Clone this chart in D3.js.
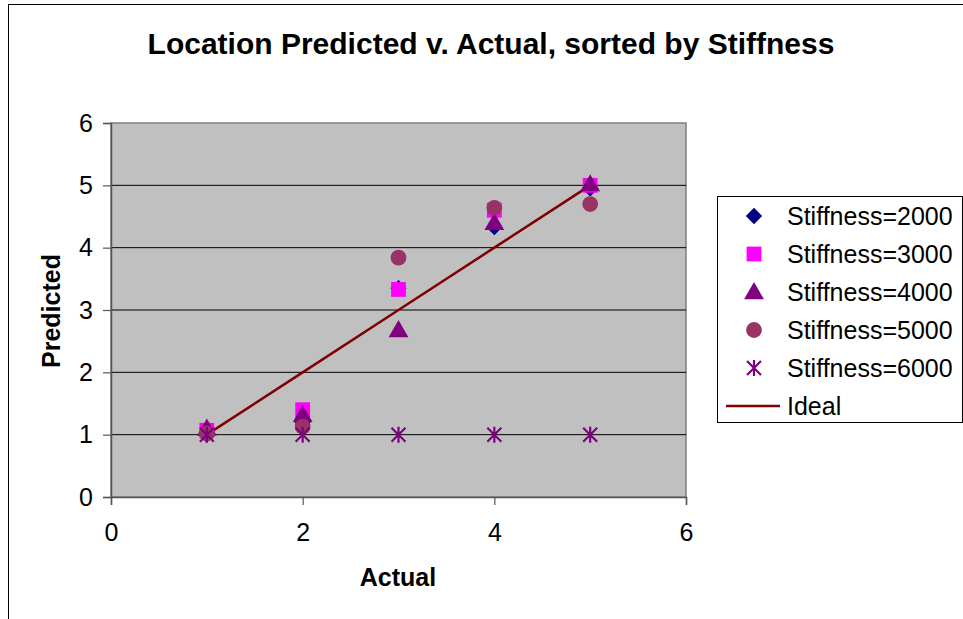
<!DOCTYPE html>
<html lang="en">
	<head>
		<meta charset="UTF-8" />
		<title>Location Predicted v. Actual, sorted by Stiffness</title>
		<script src="https://d3js.org/d3.v7.min.js"></script>
		<style>
			body { margin: 0; background: #fff; }
			svg { display: block; font-family: 'Liberation Sans', Arial, sans-serif; }
		</style>
	</head>
	<body>
		<svg id="chart" width="963" height="619"></svg>
		<script>
			// data
			var actual = [1, 2, 3, 4, 5]
			var stiff2000 = [1.0, 1.2, 3.35, 4.33, 4.95]
			var stiff3000 = [1.07, 1.4, 3.33, 4.6, 5.0]
			var stiff4000 = [1.1, 1.32, 2.68, 4.4, 5.02]
			var stiff5000 = [1.02, 1.13, 3.84, 4.64, 4.7]
			var stiff6000 = [1, 1, 1, 1, 1]
			var ideal = [1, 2, 3, 4, 5]
			var xTicks = [0, 2, 4, 6]
			var yTicks = [0, 1, 2, 3, 4, 5, 6]

			var series = [
				{ name: 'Stiffness=2000', values: stiff2000, shape: 'diamond', color: '#000080' },
				{ name: 'Stiffness=3000', values: stiff3000, shape: 'square', color: '#ff00ff' },
				{ name: 'Stiffness=4000', values: stiff4000, shape: 'triangle', color: '#800080' },
				{ name: 'Stiffness=5000', values: stiff5000, shape: 'circle', color: '#993366' },
				{ name: 'Stiffness=6000', values: stiff6000, shape: 'star', color: '#800080' }
			]

			var svg = d3.select('#chart')
			var plot = { left: 111, right: 686, top: 123, bottom: 497 }

			var x = d3.scaleLinear().domain([0, 6]).range([plot.left, plot.right])
			var y = d3.scaleLinear().domain([0, 6]).range([plot.bottom, plot.top])

			// outer chart border
			svg.append('rect')
				.attr('x', 8.5).attr('y', 4.5)
				.attr('width', 1000).attr('height', 700)
				.attr('fill', 'none').attr('stroke', '#000').attr('stroke-width', 1)

			// plot area
			svg.append('rect')
				.attr('x', plot.left).attr('y', plot.top)
				.attr('width', plot.right - plot.left).attr('height', plot.bottom - plot.top)
				.attr('fill', '#c0c0c0').attr('stroke', '#808080').attr('stroke-width', 1.5)

			// gridlines
			svg.append('g')
				.selectAll('line')
				.data(yTicks.filter(function (d) { return d > 0 && d < 6 }))
				.enter()
				.append('line')
				.attr('x1', plot.left).attr('x2', plot.right)
				.attr('y1', function (d) { return y(d) }).attr('y2', function (d) { return y(d) })
				.attr('stroke', '#000').attr('stroke-width', 1)

			// axes
			var fmt = d3.format('d')
			var xAxis = svg.append('g')
				.attr('transform', 'translate(0,' + plot.bottom + ')')
				.call(d3.axisBottom(x).tickValues(xTicks).tickFormat(fmt).tickSize(8).tickPadding(18))
			var yAxis = svg.append('g')
				.attr('transform', 'translate(' + plot.left + ',0)')
				.call(d3.axisLeft(y).tickValues(yTicks).tickFormat(fmt).tickSize(8).tickPadding(10))
			;[xAxis, yAxis].forEach(function (a) {
				a.select('.domain').attr('stroke', '#555').attr('stroke-width', 1.5)
				a.selectAll('.tick line').attr('stroke', '#555').attr('stroke-width', 1.2)
				a.selectAll('.tick text')
					.attr('fill', '#000')
					.style('font-size', '25px')
					.style('font-family', "'Liberation Sans', Arial, sans-serif")
			})

			// ideal line
			var line = d3.line()
				.x(function (d, i) { return x(actual[i]) })
				.y(function (d) { return y(d) })
			svg.append('path')
				.datum(ideal)
				.attr('d', line)
				.attr('fill', 'none')
				.attr('stroke', '#800000')
				.attr('stroke-width', 2.5)

			function marker(sel, shape, color) {
				if (shape === 'star') {
					var s = 7
					sel.append('path')
						.attr('d', 'M' + -s + ',' + -s + 'L' + s + ',' + s +
							'M' + s + ',' + -s + 'L' + -s + ',' + s +
							'M0,' + (-s - 1) + 'L0,' + (s + 1))
						.attr('stroke', color).attr('stroke-width', 2.2).attr('fill', 'none')
					return
				}
				var sym = {
					diamond: d3.symbol().type(d3.symbolDiamond2).size(170),
					square: d3.symbol().type(d3.symbolSquare).size(220),
					triangle: d3.symbol().type(d3.symbolTriangle).size(170),
					circle: d3.symbol().type(d3.symbolCircle).size(195)
				}[shape]
				var t = shape === 'triangle' ? 'translate(0,1.5)' : null
				sel.append('path').attr('d', sym).attr('fill', color).attr('transform', t)
			}

			// points
			series.forEach(function (s) {
				svg.append('g')
					.selectAll('g')
					.data(s.values)
					.enter()
					.append('g')
					.attr('transform', function (d, i) {
						return 'translate(' + x(actual[i]) + ',' + y(d) + ')'
					})
					.each(function () { marker(d3.select(this), s.shape, s.color) })
			})

			// titles
			svg.append('text')
				.attr('x', 491).attr('y', 54)
				.attr('text-anchor', 'middle')
				.style('font-size', '30px').style('font-weight', 'bold')
				.text('Location Predicted v. Actual, sorted by Stiffness')
			svg.append('text')
				.attr('x', 398).attr('y', 586)
				.attr('text-anchor', 'middle')
				.style('font-size', '25px').style('font-weight', 'bold')
				.text('Actual')
			svg.append('text')
				.attr('transform', 'translate(60,311) rotate(-90)')
				.attr('text-anchor', 'middle')
				.style('font-size', '25px').style('font-weight', 'bold')
				.text('Predicted')

			// legend
			var legend = svg.append('g')
			legend.append('rect')
				.attr('x', 717.5).attr('y', 196.5)
				.attr('width', 245).attr('height', 226)
				.attr('fill', '#fff').attr('stroke', '#000').attr('stroke-width', 1)
			var items = legend.selectAll('g.item')
				.data(series.concat([{ name: 'Ideal', shape: 'line', color: '#800000' }]))
				.enter()
				.append('g')
				.attr('class', 'item')
				.attr('transform', function (d, i) { return 'translate(0,' + (216 + i * 38) + ')' })
			items.each(function (d) {
				var g = d3.select(this)
				if (d.shape === 'line') {
					g.append('line')
						.attr('x1', 726).attr('x2', 780)
						.attr('stroke', d.color).attr('stroke-width', 2.5)
				} else {
					var m = g.append('g').attr('transform', 'translate(754,0)')
					marker(m, d.shape, d.color)
				}
			})
			items.append('text')
				.attr('x', 787).attr('dy', '0.36em')
				.style('font-size', '25px')
				.text(function (d) { return d.name })
		</script>
	</body>
</html>
